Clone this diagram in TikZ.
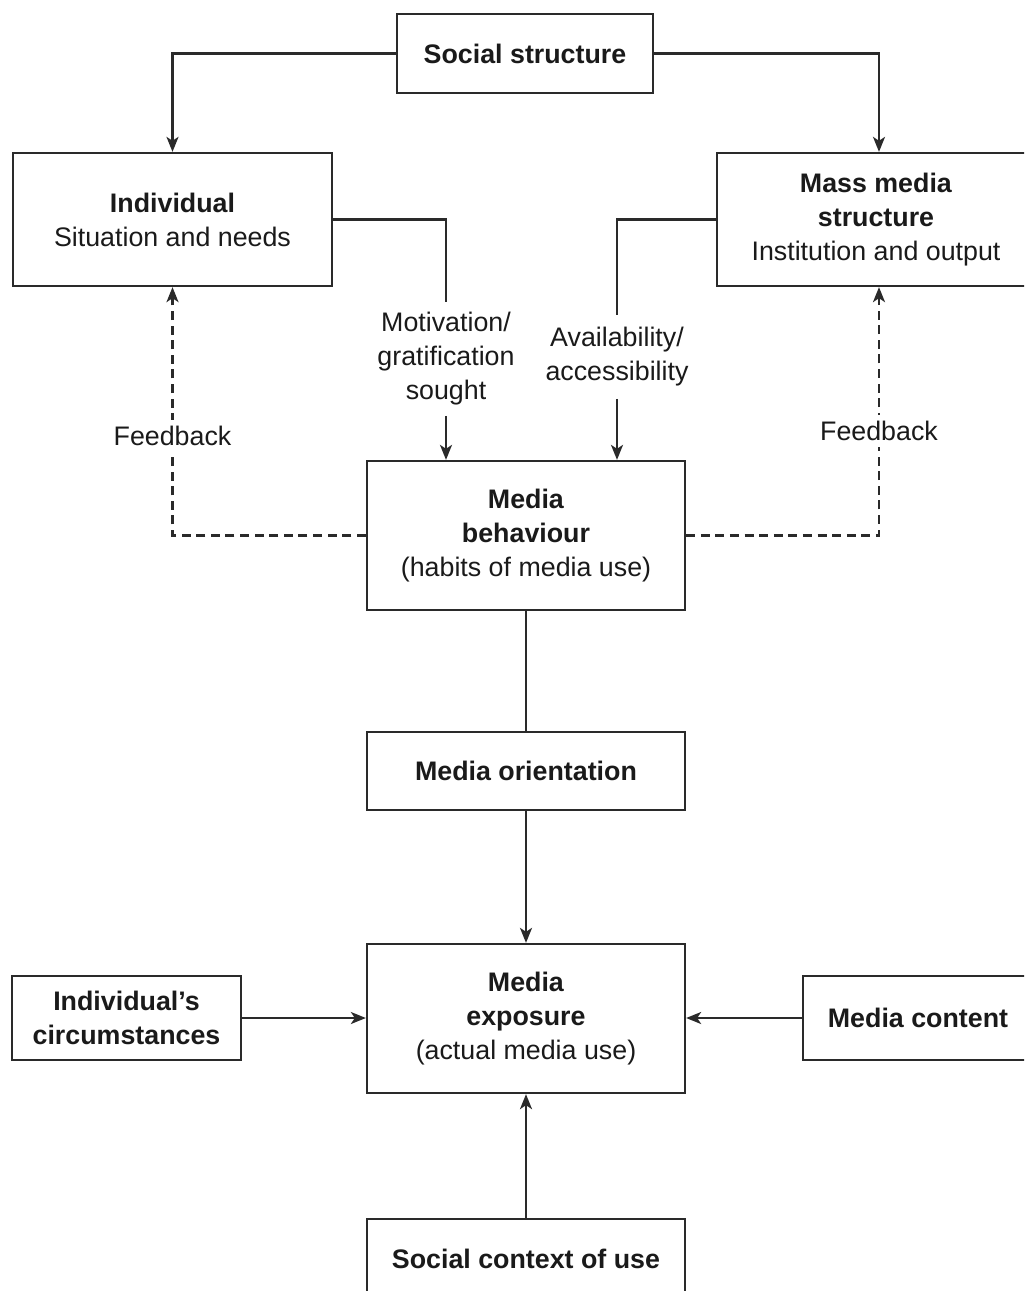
\documentclass[tikz,border=0pt]{standalone}
\usepackage{fontspec}
\setmainfont{Liberation Sans}
\usetikzlibrary{arrows.meta}
\definecolor{ink}{HTML}{1A1A1A}
\definecolor{linecol}{HTML}{2A2A2A}
\begin{document}
\begin{tikzpicture}[x=0.5pt,y=-0.5pt,
  every node/.style={text=ink, font=\fontsize{13.4}{17}\selectfont},
  box/.style={draw=linecol, line width=1.15pt, fill=white, align=center, inner sep=0pt},
  lbl/.style={align=center, inner sep=4pt, fill=white},
  conn/.style={draw=linecol, line width=1.1pt},
  arr/.style={conn, -{Stealth[length=7.5pt,width=6pt,inset=2pt]}},
  fb/.style={arr, dash pattern=on 4.5pt off 2.8pt}]
\useasboundingbox (0,0) rectangle (1024,1291);
\clip (0,0) rectangle (1024,1291);
\fill[white] (0,0) rectangle (1024,1291);

% boxes
\node[box, minimum width=128pt, minimum height=39.5pt] (social) at (525,53.5) {\textbf{Social structure}};
\node[box, minimum width=159.5pt, minimum height=66.5pt] (indiv) at (172.5,219.5) {\textbf{Individual}\\Situation and needs};
\node[box, minimum width=159pt, minimum height=66.5pt] (mass) at (876,219.5) {\textbf{Mass media}\\\textbf{structure}\\Institution and output};
\node[box, minimum width=159pt, minimum height=74.5pt] (behav) at (526,535.5) {\textbf{Media}\\\textbf{behaviour}\\(habits of media use)};
\node[box, minimum width=159pt, minimum height=39pt] (orient) at (526,771) {\textbf{Media orientation}};
\node[box, minimum width=159pt, minimum height=74.5pt] (expo) at (526,1018.5) {\textbf{Media}\\\textbf{exposure}\\(actual media use)};
\node[box, minimum width=114.5pt, minimum height=42pt] (circ) at (126.5,1018) {\textbf{Individual’s}\\\textbf{circumstances}};
\node[box, minimum width=115pt, minimum height=42pt] (content) at (918,1018) {\textbf{Media content}};
\node[box, minimum width=159pt, minimum height=39.5pt] (context) at (526,1258.5) {\textbf{Social context of use}};

% labels on the middle connectors
\node[lbl, inner sep=5pt] (motiv) at (446,359) {Motivation/\\gratification\\sought};
\node[lbl, inner sep=6pt] (avail) at (617,357) {Availability/\\accessibility};

% social structure to the two upper boxes
\draw[arr] (social.west) -| (indiv.north);
\draw[arr] (social.east) -| ([xshift=1.5pt]mass.north);

% inputs into media behaviour
\draw[conn] (indiv.east) -| (motiv.north);
\draw[arr] (motiv.south) -- (motiv.south |- behav.north);
\draw[conn] (mass.west) -| (avail.north);
\draw[arr] (avail.south) -- (avail.south |- behav.north);

% feedback loops
\draw[fb] (behav.west) -| (indiv.south) node[pos=0.70, fill=white, inner sep=3pt] {Feedback};
\draw[fb] (behav.east) -| ([xshift=1.5pt]mass.south) node[pos=0.71, fill=white, inner sep=3pt] {Feedback};

% main vertical chain
\draw[conn] (behav.south) -- (orient.north);
\draw[arr] (orient.south) -- (expo.north);
\draw[arr] (circ.east) -- (circ.east -| expo.west);
\draw[arr] (content.west) -- (content.west -| expo.east);
\draw[arr] (context.north) -- (expo.south);
\end{tikzpicture}
\end{document}
